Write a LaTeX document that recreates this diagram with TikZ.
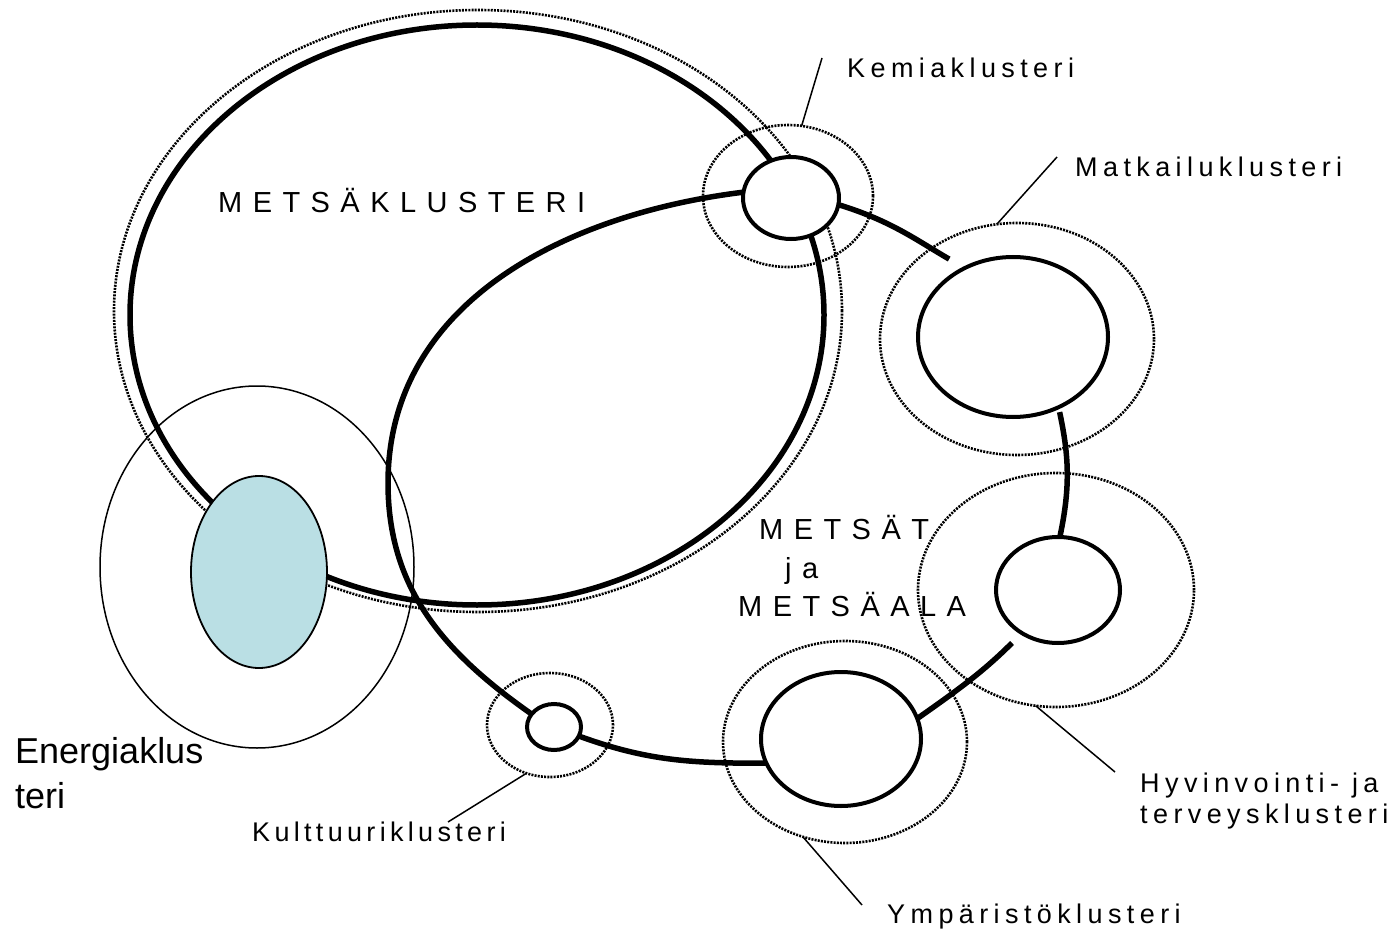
\documentclass[tikz,border=0pt]{standalone}
\usepackage{fontspec}
\setmainfont{Liberation Sans}
\newfontfamily\lblfont[LetterSpace=20]{Liberation Sans}
\newfontfamily\bigfont[LetterSpace=36]{Liberation Sans}
\usetikzlibrary{positioning,shapes.geometric}
\definecolor{energiablue}{RGB}{186,223,228}

\begin{document}
\begin{tikzpicture}[x=1pt, y=1pt,
    ring/.style={line width=5.5pt},
    dotline/.style={line width=2.6pt, dash pattern=on 2pt off 1.2pt},
    clus/.style={ellipse, draw=black, fill=white, line width=4pt, inner sep=0pt, outer sep=0pt},
    halo/.style={ellipse, draw=black, dotline, inner sep=0pt, outer sep=0pt},
    leader/.style={line width=1.5pt},
    lbl/.style={font=\lblfont\fontsize{27}{31}\selectfont, inner sep=0pt, anchor=base west},
    biglbl/.style={font=\bigfont\fontsize{29}{35}\selectfont, inner sep=0pt, anchor=base west},
]
\useasboundingbox (0,0) rectangle (1395,-933);

% --- METSAKLUSTERI ring ---
\draw[dotline] (478,-311) ellipse [x radius=364, y radius=301];
\draw[ring] (477,-315) ellipse [x radius=347, y radius=290];
\node[biglbl] (metsaklusteri) at (218,-213) {METSÄKLUSTERI};

% --- Energiaklusteri ---
\node[ellipse, draw, line width=1.5pt, minimum width=314, minimum height=362, inner sep=0pt] (energiahalo) at (257,-567) {};

% --- halos ---
\node[halo, minimum width=170, minimum height=142] (kemiahalo) at (788,-196) {};
\node[halo, minimum width=274, minimum height=232] (matkailuhalo) at (1017,-339) {};
\node[halo, minimum width=276, minimum height=234] (hyvinvointihalo) at (1056,-590) {};
\node[halo, minimum width=244, minimum height=202] (ymparistohalo) at (845,-742) {};
\node[halo, minimum width=126, minimum height=104] (kulttuurihalo) at (550,-725) {};

% --- clusters ---
\node[clus, minimum width=96, minimum height=82] (kemia) at (791,-198) {};
\node[clus, minimum width=190, minimum height=160] (matkailu) at (1013,-337) {};
\node[clus, minimum width=124, minimum height=106] (hyvinvointi) at (1058,-590) {};
\node[clus, minimum width=160, minimum height=134] (ymparisto) at (841,-739) {};
\node[clus, minimum width=54, minimum height=46] (kulttuuri) at (554,-727) {};
\node[ellipse, draw, line width=1.8pt, fill=energiablue, minimum width=136, minimum height=192, inner sep=0pt] (energia) at (259,-572) {};

% --- METSAT ja METSAALA ring ---
\coordinate (westbend) at (388,-483);
\draw[ring, shorten >=18pt] (kemia.-8) to[out=-17, in=150] (matkailu.125);
\draw[ring, shorten <=5pt] (matkailu.-57) to[out=-78, in=78] (hyvinvointi.88);
\draw[ring, shorten <=14pt] (hyvinvointi.-130) to[out=-135, in=35] (ymparisto.15);
\draw[ring] (ymparisto.198) to[out=180, in=-20] (kulttuuri.-20);
\draw[ring] (kulttuuri.150) to[out=145, in=-90] (westbend) to[out=90, in=187] (kemia.173);

\node[biglbl] (metsat) at (759,-539) {METSÄT};
\node[biglbl] (ja) at (785,-578) {ja};
\node[biglbl] (metsaala) at (738,-616) {METSÄALA};

% --- labels ---
\node[font=\fontsize{36}{45}\selectfont, align=left, inner sep=0pt, anchor=north west] (energialbl) at (15,-737) {Energiaklus\\teri};
\node[lbl] (kemialbl) at (847,-78) {Kemiaklusteri};
\node[lbl] (matkailulbl) at (1075,-177) {Matkailuklusteri};
\node[lbl] (hyvinvointilbl) at (1140,-792) {Hyvinvointi- ja};
\node[lbl] (terveyslbl) at (1140,-823) {terveysklusteri};
\node[lbl] (ymparistolbl) at (887,-923) {Ympäristöklusteri};
\node[lbl, font=\lblfont\addfontfeature{LetterSpace=16}\fontsize{27}{31}\selectfont] (kulttuurilbl) at (252,-841) {Kulttuuriklusteri};

% --- leaders ---
\coordinate (kemiatip) at (822,-58);
\coordinate (matkailutip) at (1057,-157);
\coordinate (hyvinvointitip) at (1115,-772);
\coordinate (ymparistotip) at (862,-905);
\coordinate (kulttuuritip) at (448,-822);
\draw[leader] (kemiahalo.79) -- (kemiatip);
\draw[leader] (matkailuhalo.100) -- (matkailutip);
\draw[leader] (hyvinvointihalo.-100) -- (hyvinvointitip);
\draw[leader] (ymparistohalo.-114) -- (ymparistotip);
\draw[leader] (kulttuurihalo.-116) -- (kulttuuritip);

\end{tikzpicture}
\end{document}
